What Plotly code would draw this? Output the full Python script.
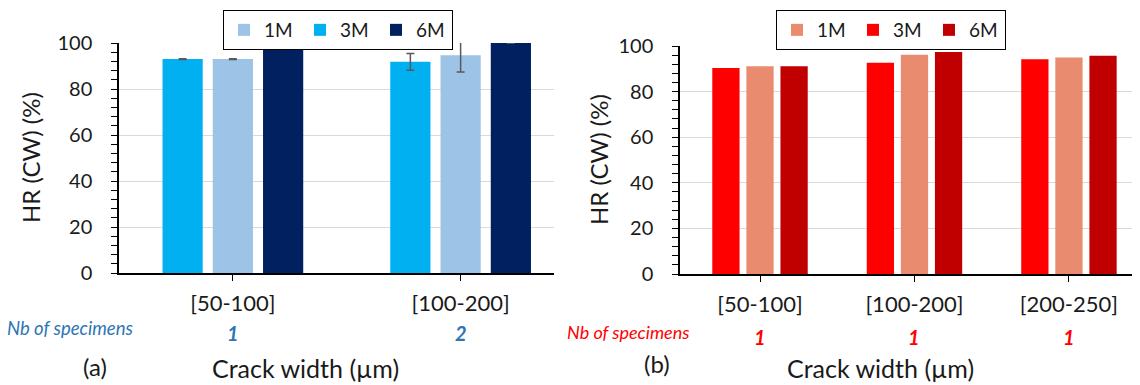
import plotly.graph_objects as go

# ---------------- data ----------------
categories_a = ["[50-100]", "[100-200]"]
hr_a_1m = [93.0, 94.7]
hr_a_3m = [93.0, 91.8]
hr_a_6m = [100.0, 100.0]
err_a_1m = [0.2, 7.3]
err_a_3m = [0.2, 3.6]
err_a_6m = [0.1, 0.1]
specimens_a = ["1", "2"]

categories_b = ["[50-100]", "[100-200]", "[200-250]"]
hr_b_1m = [91.1, 96.2, 95.0]
hr_b_3m = [90.4, 92.7, 94.2]
hr_b_6m = [91.1, 97.4, 95.7]
specimens_b = ["1", "1", "1"]

series_labels = ["3M", "1M", "6M"]
legend_rank = {"1M": 1, "3M": 2, "6M": 3}

colors_a = {"3M": "#00B0F0", "1M": "#9DC3E6", "6M": "#002060"}
colors_b = {"3M": "#FF0000", "1M": "#E88B6E", "6M": "#C00000"}

FONT = "Lato, 'Open Sans', sans-serif"
OFF = 8                      # page body margin offset
W, H = 1140 - OFF, 385 - OFF
TXT = "#1a1a1a"

fig = go.Figure()

vals_a = {"3M": (hr_a_3m, err_a_3m), "1M": (hr_a_1m, err_a_1m), "6M": (hr_a_6m, err_a_6m)}
for s in series_labels:
    y, e = vals_a[s]
    fig.add_trace(go.Bar(
        x=categories_a, y=y, name=s, marker_color=colors_a[s], marker_line_width=0,
        error_y=dict(type="data", array=e, visible=True, color="#595959", thickness=1.5, width=4),
        xaxis="x", yaxis="y", legend="legend", legendrank=legend_rank[s],
    ))

vals_b = {"3M": hr_b_3m, "1M": hr_b_1m, "6M": hr_b_6m}
for s in series_labels:
    fig.add_trace(go.Bar(
        x=categories_b, y=vals_b[s], name=s, marker_color=colors_b[s], marker_line_width=0,
        xaxis="x2", yaxis="y2", legend="legend2", legendrank=legend_rank[s],
    ))

def px_x(p):
    return (p - OFF) / W

def px_y(p):
    return 1 - (p - OFF) / H

def yaxis_cfg(domain, anchor):
    return dict(
        domain=domain, anchor=anchor, range=[0, 100], dtick=20,
        showgrid=True, gridcolor="#D9D9D9", gridwidth=1,
        showline=True, linecolor="black", linewidth=1.5,
        ticks="outside", ticklen=6, tickcolor="black", tickwidth=1.2,
        minor=dict(dtick=4, ticks="outside", ticklen=6, tickcolor="black", tickwidth=1.2, showgrid=False),
        tickfont=dict(family=FONT, size=20, color=TXT), ticklabelstandoff=15,
        zeroline=False, fixedrange=True,
    )

def yaxis_inner(domain, anchor, overlay):
    return dict(
        domain=domain, anchor=anchor, overlaying=overlay, range=[0, 100], dtick=20,
        showgrid=False, showline=False, ticks="inside", ticklen=7, tickcolor="black",
        tickwidth=1.2, showticklabels=False, zeroline=False, fixedrange=True,
    )

def xaxis_cfg(domain, anchor, rng):
    return dict(
        domain=domain, anchor=anchor, range=rng, type="category",
        showline=True, linecolor="black", linewidth=1.5,
        ticks="outside", ticklen=6, tickcolor="black", tickwidth=1.2,
        tickfont=dict(family=FONT, size=22, color=TXT), ticklabelstandoff=4,
        showgrid=False, fixedrange=True,
    )

ydom_a = [px_y(273), px_y(43)]
ydom_b = [px_y(274), px_y(46)]

legend_common = dict(
    orientation="h", xanchor="left", yanchor="top",
    bordercolor="black", borderwidth=1, bgcolor="white",
    font=dict(family=FONT, size=19, color=TXT),
    entrywidth=31, itemclick=False, itemdoubleclick=False,
    tracegroupgap=0,
)

fig.update_layout(
    width=W, height=H, margin=dict(l=0, r=0, t=0, b=0, autoexpand=False),
    paper_bgcolor="white", plot_bgcolor="white",
    barmode="group", bargap=0.338, bargroupgap=0.2,
    font=dict(family=FONT, color=TXT),
    xaxis=xaxis_cfg([px_x(119), px_x(554)], "y", [-0.5, 1.41]),
    yaxis=yaxis_cfg(ydom_a, "x"),
    yaxis3=yaxis_inner(ydom_a, "x", "y"),
    xaxis2=xaxis_cfg([px_x(680), 1.0], "y2", [-0.518, 2.46]),
    yaxis2=yaxis_cfg(ydom_b, "x2"),
    yaxis4=yaxis_inner(ydom_b, "x2", "y2"),
    legend=dict(x=px_x(223), y=px_y(10), **legend_common),
    legend2=dict(x=px_x(776), y=px_y(10), **legend_common),
    showlegend=True,
)

def note(text, xp, yp, size, color=TXT, angle=0):
    return dict(text=text, x=px_x(xp), y=px_y(yp), xref="paper", yref="paper",
                xanchor="center", yanchor="middle", textangle=angle, showarrow=False,
                font=dict(family=FONT, size=size, color=color))

ann = []
ann.append(note("HR (CW) (%)", 30, 158, 24, angle=-90))
ann.append(note("HR (CW) (%)", 598, 160, 24, angle=-90))
ann.append(note("Crack width (µm)", 305, 368, 25))
ann.append(note("Crack width (µm)", 880, 368, 25))
ann.append(note("(a)", 95, 366, 24))
ann.append(note("(b)", 657, 363, 24))

blue = "#2E75B6"
red = "#FF0000"
ann.append(note("<i>Nb of specimens</i>", 70, 328, 18.5, blue))
ann.append(note("<i>Nb of specimens</i>", 628, 332, 18, red))
for c, n in zip(categories_a, specimens_a):
    ann.append(dict(text=f"<b><i>{n}</i></b>", x=c, xref="x", y=px_y(333), yref="paper",
                    xanchor="center", yanchor="middle", showarrow=False,
                    font=dict(family=FONT, size=20, color=blue)))
for c, n in zip(categories_b, specimens_b):
    ann.append(dict(text=f"<b><i>{n}</i></b>", x=c, xref="x2", y=px_y(337), yref="paper",
                    xanchor="center", yanchor="middle", showarrow=False,
                    font=dict(family=FONT, size=20, color=red)))

fig.update_layout(annotations=ann)

fig.write_html("out.html")
